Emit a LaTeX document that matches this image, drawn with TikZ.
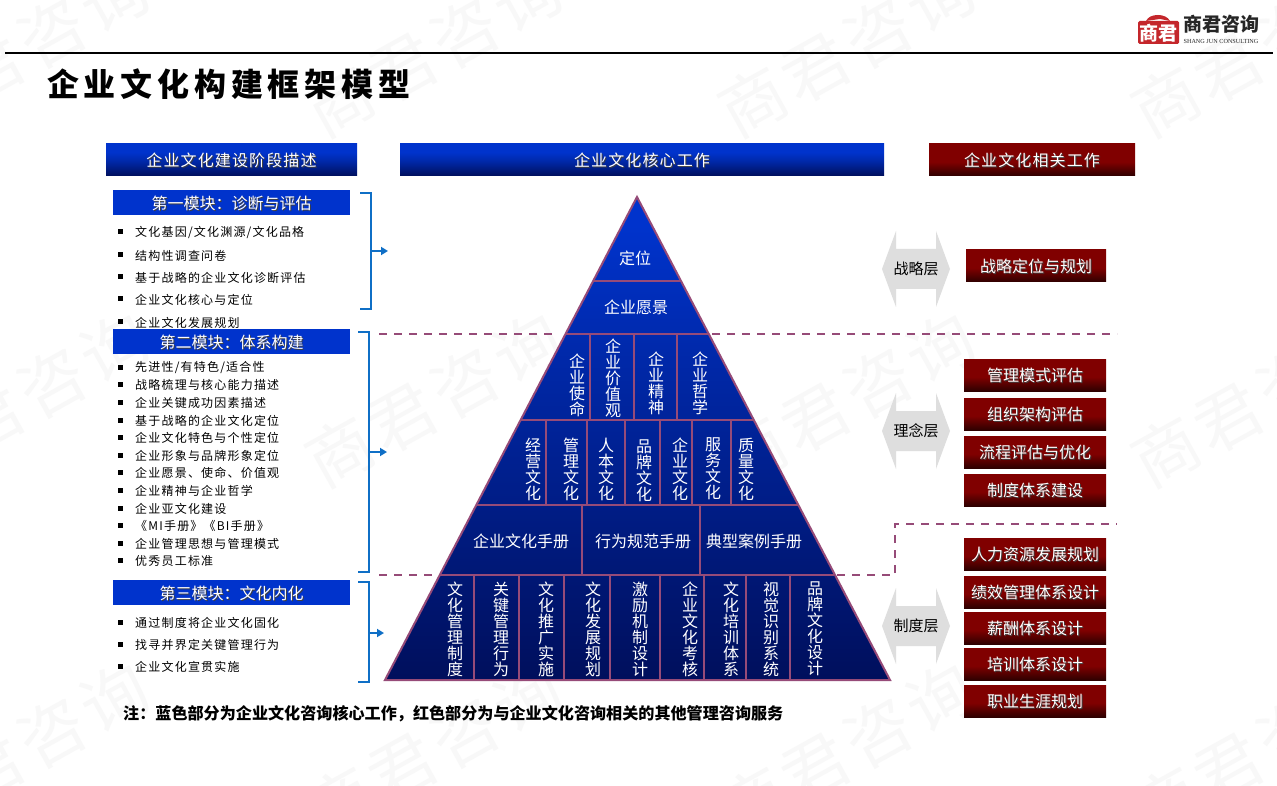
\documentclass[tikz,border=0pt]{standalone}
\usepackage{fontspec}
\usetikzlibrary{arrows.meta,calc}
\setmainfont{Noto Sans CJK SC}
\newfontfamily\spaced[LetterSpace=10]{Noto Sans CJK SC}
\newfontfamily\hdrfont[LetterSpace=7]{Noto Sans CJK SC}
\newfontfamily\ttlfont[LetterSpace=15]{Noto Sans CJK SC}
\newfontfamily\wmfont[LetterSpace=8]{Noto Sans CJK SC}
\newfontfamily\latinserif{Liberation Serif}
\definecolor{blueA}{HTML}{0033CC}
\definecolor{blueB}{HTML}{0028A8}
\definecolor{blueC}{HTML}{000F5C}
\definecolor{redA}{HTML}{800000}
\definecolor{redB}{HTML}{2E0000}
\definecolor{edge}{HTML}{964B78}
\definecolor{brk}{HTML}{0F6FC6}
\definecolor{wm}{HTML}{F8F8F8}
\definecolor{arrowgray}{HTML}{DEDEDE}
\definecolor{logored}{HTML}{C4262B}
\pgfdeclareverticalshading{hdrblue}{100bp}{color(0bp)=(blueC); color(25bp)=(blueC); color(48bp)=(blueB); color(62bp)=(blueA); color(100bp)=(blueA)}
\pgfdeclareverticalshading{hdrred}{100bp}{color(0bp)=(redB); color(25bp)=(redB); color(47bp)=(redA); color(100bp)=(redA)}
\pgfdeclareverticalshading{pyr}{100bp}{color(0bp)=(blueC); color(25bp)=(blueC); color(58bp)=(blueB); color(72bp)=(blueA); color(100bp)=(blueA)}
\newcommand{\sh}[1]{\raisebox{-1pt}[\height][\depth]{\makebox[0pt][l]{\hspace{1pt}\raisebox{-1pt}{\color{black!75}#1}}#1}}
\newcommand{\fsz}[1]{\fontsize{#1}{#1}\selectfont}
\tikzset{
  hdrB/.style={shading=hdrblue,text=white,inner sep=0pt,font=\fsz{16}\hdrfont},
  hdrR/.style={shading=hdrred,text=white,inner sep=0pt,minimum width=142,minimum height=32,font=\fsz{16}},
  modhdr/.style={fill=blueA,text=white,inner sep=0pt,minimum width=237,minimum height=25,font=\fsz{16}},
  item/.style={anchor=west,inner sep=0pt,font=\fsz{12}\spaced},
  bullet/.style={fill=black,inner sep=0pt,minimum size=5},
  pl/.style={text=white,inner sep=0pt,font=\fsz{16}},
  vt/.style={text=white,inner sep=0pt,align=center,font=\fsz{16}},
  pline/.style={draw=edge,line width=2},
  dash1/.style={draw=edge,line width=2,dash pattern=on 8pt off 7pt},
  bracket/.style={draw=brk,line width=2},
  barrow/.style={draw=brk,line width=2,-{Triangle[length=7,width=8]}},
  lay/.style={inner sep=0pt,font=\fsz{15},text=black},
  wmtxt/.style={inner sep=0pt,text=wm,rotate=29,font=\fsz{66}\wmfont}
}
\newcommand{\grayarrow}[2]{%
  \fill[arrowgray] (882,#1) -- (896,#1-38) -- (896,#1-20) -- (936,#1-20) -- (936,#1-38) -- (950,#1) -- (936,#1+38) -- (936,#1+20) -- (896,#1+20) -- (896,#1+38) -- cycle;
  \node[lay] (#2) at (916,#1) {\csname lbl#2\endcsname};}
\newcommand{\lblstrat}{战略层}
\newcommand{\lblidea}{理念层}
\newcommand{\lblsys}{制度层}
\begin{document}
\begin{tikzpicture}[x=1pt,y=-1pt]
\useasboundingbox (0,0) rectangle (1277,786);
\fill[white] (0,0) rectangle (1277,786);
% watermark
\foreach \wx in {-72,341,754,1167}
  \foreach \wy in {102,452,802}
    \node[wmtxt] at (\wx+93,\wy-52) {商君咨询};
% top rule and logo
\coordinate (ruleL) at (5,53);
\coordinate (ruleR) at (1273,53);
\draw[black,line width=2] (ruleL) -- (ruleR);
\fill[logored,rounded corners=1.5] (1138,21) rectangle (1179,44);
\fill[logored] (1146,21) .. controls (1148,17) and (1152,15) .. (1158,15) .. controls (1163,15) and (1168,17) .. (1170,21) -- (1160,19) -- cycle;
\node[inner sep=0pt,text=white,font=\fsz{19}\bfseries] (stamp) at (1158.5,33) {商君};
\node[inner sep=0pt,text=black!85,font=\fsz{19}\bfseries] (brand) at (1221,24) {商君咨询};
\node[inner sep=0pt,text=black!85,font=\fsz{6.2}\latinserif] (brandE) at (1221,41) {SHANG JUN CONSULTING};
% title
\node[anchor=west,inner sep=0pt,text=black,font=\fsz{32}\ttlfont\bfseries] (title) at (47,84) {企业文化构建框架模型};
% column headers
\node[hdrB,minimum width=251,minimum height=32] (h1) at (231.5,160) {\sh{企业文化建设阶段描述}};
\node[hdrB,minimum width=484,minimum height=32] (h2) at (642,160) {\sh{企业文化核心工作}};
\node[shading=hdrred,text=white,inner sep=0pt,minimum width=206,minimum height=32,font=\fsz{16}\hdrfont] (h3) at (1032,160) {\sh{企业文化相关工作}};
% module headers
\node[modhdr] (m1) at (231.5,202.5) {\sh{第一模块：诊断与评估}};
\node[modhdr] (m2) at (231.5,341.5) {\sh{第二模块：体系构建}};
\node[modhdr] (m3) at (231.5,592.5) {\sh{第三模块：文化内化}};
% lists
\foreach \yy/\txt in {232/{文化基因/文化渊源/文化品格},255/结构性调查问卷,277/基于战略的企业文化诊断评估,299/企业文化核心与定位,322/企业文化发展规划,
 367/{先进性/有特色/适合性},384/战略梳理与核心能力描述,402/企业关键成功因素描述,420/基于战略的企业文化定位,437/企业文化特色与个性定位,455/企业形象与品牌形象定位,472/企业愿景、使命、价值观,490/企业精神与企业哲学,508/企业亚文化建设,525/《MI手册》《BI手册》,543/企业管理思想与管理模式,560/优秀员工标准,
 622/通过制度将企业文化固化,644/找寻并界定关键管理行为,666/企业文化宣贯实施}{
  \node[bullet] (b\yy) at (120,\yy) {};
  \node[item] (i\yy) at (135,\yy+0.7) {\txt};
}
% brackets
\coordinate (b1a) at (360,193); \coordinate (b1b) at (371,193); \coordinate (b1c) at (371,309); \coordinate (b1d) at (360,309);
\coordinate (b2a) at (358,332); \coordinate (b2b) at (369,332); \coordinate (b2c) at (369,572); \coordinate (b2d) at (358,572);
\coordinate (b3a) at (358,582); \coordinate (b3b) at (369,582); \coordinate (b3c) at (369,682); \coordinate (b3d) at (358,682);
\draw[bracket] (b1a) -- (b1b) -- (b1c) -- (b1d);
\draw[bracket] (b2a) -- (b2b) -- (b2c) -- (b2d);
\draw[bracket] (b3a) -- (b3b) -- (b3c) -- (b3d);
\coordinate (a1a) at (371,251); \coordinate (a1b) at (388,251);
\coordinate (a2a) at (369,452); \coordinate (a2b) at (387,452);
\coordinate (a3a) at (369,633); \coordinate (a3b) at (384,633);
\draw[barrow] (a1a) -- (a1b);
\draw[barrow] (a2a) -- (a2b);
\draw[barrow] (a3a) -- (a3b);
% pyramid
\coordinate (apex) at (637,197);
\coordinate (bl) at (385,680);
\coordinate (br) at (890,680);
\shade[shading=pyr] (apex) -- (bl) -- (br) -- cycle;
\draw[pline,line join=miter] (apex) -- (bl) -- (br) -- cycle;
\draw[pline] (593.2,281) -- (680.8,281);
\draw[pline] (565.5,334) -- (708.5,334);
\draw[pline] (520.7,420) -- (753.3,420);
\draw[pline] (476.3,505) -- (797.7,505);
\draw[pline] (439.8,575) -- (834.2,575);
\foreach \vx in {590,634,677} \draw[pline] (\vx,334) -- (\vx,420);
\foreach \vx in {546,587,625,660,692,731} \draw[pline] (\vx,420) -- (\vx,505);
\foreach \vx in {582,700} \draw[pline] (\vx,505) -- (\vx,575);
\foreach \vx in {474,519,564,610,660,704,746,790} \draw[pline] (\vx,575) -- (\vx,680);
% dashed separators
\draw[dash1] (379,334) -- (558,334);
\draw[dash1] (712,334) -- (1117,334);
\draw[dash1] (379,575) -- (436,575);
\draw[dash1] (837,575) -- (895,575) -- (895,524) -- (1117,524);
% pyramid labels
\node[pl] (p1) at (635,258) {定位};
\node[pl] (p2) at (636,307) {企业愿景};
\node[vt] (r31) at (577,385) {企\\业\\使\\命};
\node[vt] (r32) at (613,378) {企\\业\\价\\值\\观};
\node[vt] (r33) at (656,383) {企\\业\\精\\神};
\node[vt] (r34) at (700,383) {企\\业\\哲\\学};
\node[vt] (r41) at (533,469) {经\\营\\文\\化};
\node[vt] (r42) at (571,469) {管\\理\\文\\化};
\node[vt] (r43) at (606,469) {人\\本\\文\\化};
\node[vt] (r44) at (644,471) {品\\牌\\文\\化};
\node[vt] (r45) at (680,469) {企\\业\\文\\化};
\node[vt] (r46) at (713,469) {服\\务\\文\\化};
\node[vt] (r47) at (746,469) {质\\量\\文\\化};
\node[pl] (r51) at (521,541) {企业文化手册};
\node[pl] (r52) at (643,541) {行为规范手册};
\node[pl] (r53) at (754,541) {典型案例手册};
\node[vt] (r61) at (455,629) {文\\化\\管\\理\\制\\度};
\node[vt] (r62) at (501,629) {关\\键\\管\\理\\行\\为};
\node[vt] (r63) at (546,629) {文\\化\\推\\广\\实\\施};
\node[vt] (r64) at (593,629) {文\\化\\发\\展\\规\\划};
\node[vt] (r65) at (640,629) {激\\励\\机\\制\\设\\计};
\node[vt] (r66) at (690,629) {企\\业\\文\\化\\考\\核};
\node[vt] (r67) at (731,629) {文\\化\\培\\训\\体\\系};
\node[vt] (r68) at (771,629) {视\\觉\\识\\别\\系\\统};
\node[vt] (r69) at (815,629) {品\\牌\\文\\化\\设\\计};
% layer arrows
\grayarrow{269}{strat}
\grayarrow{431}{idea}
\grayarrow{626}{sys}
% right boxes
\node[hdrR,minimum width=140] (s1) at (1036,266) {\sh{战略定位与规划}};
\node[hdrR] (s2) at (1035,375) {\sh{管理模式评估}};
\node[hdrR] (s3) at (1035,414) {\sh{组织架构评估}};
\node[hdrR] (s4) at (1035,452) {\sh{流程评估与优化}};
\node[hdrR] (s5) at (1035,490) {\sh{制度体系建设}};
\node[hdrR] (s6) at (1035,554) {\sh{人力资源发展规划}};
\node[hdrR] (s7) at (1035,592) {\sh{绩效管理体系设计}};
\node[hdrR] (s8) at (1035,628) {\sh{薪酬体系设计}};
\node[hdrR] (s9) at (1035,664) {\sh{培训体系设计}};
\node[hdrR] (s10) at (1035,701) {\sh{职业生涯规划}};
% note
\node[anchor=west,inner sep=0pt,text=black,font=\fsz{16.1}\bfseries] (note) at (123,714) {注：蓝色部分为企业文化咨询核心工作，红色部分为与企业文化咨询相关的其他管理咨询服务};
\end{tikzpicture}
\end{document}
